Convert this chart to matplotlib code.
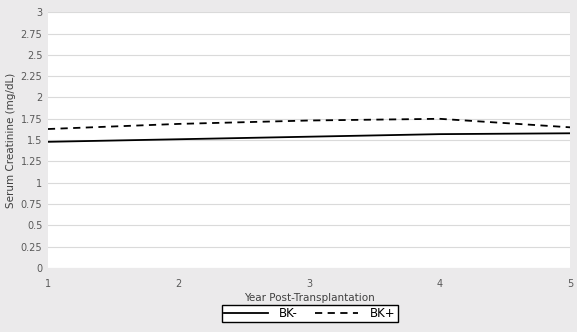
import matplotlib.pyplot as plt

years = [1, 2, 3, 4, 5]
bk_neg = [1.48, 1.51, 1.54, 1.57, 1.58]
bk_pos = [1.63, 1.69, 1.73, 1.75, 1.65]
yticks = [0, 0.25, 0.5, 0.75, 1, 1.25, 1.5, 1.75, 2, 2.25, 2.5, 2.75, 3]
ytick_labels = ['0', '0.25', '0.5', '0.75', '1', '1.25', '1.5', '1.75', '2', '2.25', '2.5', '2.75', '3']

fig = plt.figure(figsize=(5.77, 3.32), dpi=100, facecolor='#ebeaeb')
ax = fig.add_axes([0.083, 0.193, 0.905, 0.77])
ax.set_facecolor('white')

ax.plot(years, bk_neg, color='black', lw=1.3, ls='-', label='BK-')
ax.plot(years, bk_pos, color='black', lw=1.3, ls=(0, (4, 3)), label='BK+')

ax.set_xlim(1, 5)
ax.set_ylim(0, 3)
ax.set_xticks(years)
ax.set_yticks(yticks)
ax.set_yticklabels(ytick_labels)
ax.grid(axis='y', color='#dadada', lw=0.8)
ax.set_axisbelow(True)
for s in ax.spines.values():
    s.set_visible(False)
ax.tick_params(length=0, labelsize=7, colors='#595959', pad=8)
ax.tick_params(axis='y', pad=4)

ax.set_xlabel('Year Post-Transplantation', fontsize=7.5, color='#404040', labelpad=3)
ax.set_ylabel('Serum Creatinine (mg/dL)', fontsize=7.5, color='#404040', labelpad=3)

leg = fig.legend(loc='center', bbox_to_anchor=(0.537, 0.055), ncol=2, frameon=True,
                 fancybox=False, edgecolor='black', fontsize=8.5, handlelength=3.7,
                 borderpad=0.15, columnspacing=1.4, handletextpad=1.0, framealpha=1)
leg.get_frame().set_linewidth(1)

fig.savefig('out.png', dpi=100, facecolor=fig.get_facecolor())
